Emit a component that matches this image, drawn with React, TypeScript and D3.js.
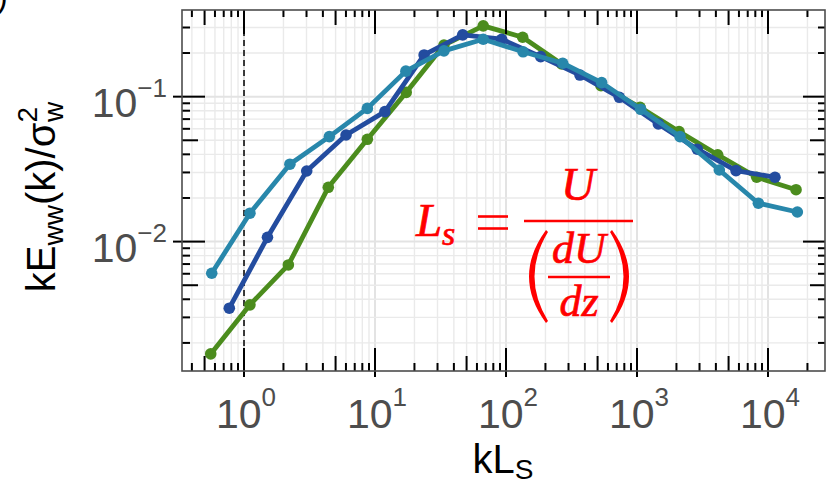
import React from "react";
import * as d3 from "d3";

const W = 827;
const H = 485;
const M = { left: 182, top: 10, right: 825, bottom: 371 };

const xDomain = [0.3362, 27230];
const yDomain = [0.00128, 0.3962];

const xMajor = [1, 10, 100, 1000, 10000];
const xMajorExp = ["0", "1", "2", "3", "4"];
const yMajor = [0.1, 0.01];
const yMajorExp = ["\u22121", "\u22122"];

const greenK = [0.557, 1.11, 2.18, 4.4, 8.74, 17.3, 33.6, 67, 134, 266, 531, 1055, 2094, 4130, 8200, 16370];
const greenE = [0.00168, 0.00366, 0.0069, 0.0237, 0.0508, 0.107, 0.227, 0.308, 0.257, 0.168, 0.119, 0.0845, 0.0574, 0.0397, 0.0278, 0.0228];

const blueK = [0.772, 1.51, 3.01, 6.01, 11.9, 23.7, 46.7, 92.7, 184, 367, 733, 1455, 2885, 5700, 11300];
const blueE = [0.00347, 0.0107, 0.0307, 0.0544, 0.0788, 0.194, 0.267, 0.249, 0.189, 0.141, 0.099, 0.0648, 0.0434, 0.0309, 0.0278];

const tealK = [0.567, 1.11, 2.24, 4.48, 8.74, 17.2, 33.6, 67, 135, 271, 537, 1067, 2130, 4250, 8440, 16750];
const tealE = [0.00605, 0.0157, 0.0342, 0.053, 0.083, 0.15, 0.207, 0.249, 0.204, 0.17, 0.125, 0.0818, 0.053, 0.0312, 0.0184, 0.016];

const series = [
  { name: "green", color: "#4b8c1d", k: greenK, e: greenE },
  { name: "blue", color: "#234c9f", k: blueK, e: blueE },
  { name: "teal", color: "#2887ab", k: tealK, e: tealE },
];

function logTicks(domain: number[]) {
  const out: { v: number; m: number }[] = [];
  for (let e = -4; e <= 5; e++) {
    for (let m = 1; m <= 9; m++) {
      const v = m * Math.pow(10, e);
      if (v >= domain[0] && v <= domain[1]) out.push({ v, m });
    }
  }
  return out;
}

export default function App() {
  const x = d3.scaleLog().domain(xDomain).range([M.left, M.right]);
  const y = d3.scaleLog().domain(yDomain).range([M.bottom, M.top]);
  const xt = logTicks(xDomain);
  const yt = logTicks(yDomain);
  const line = d3
    .line<[number, number]>()
    .x((d) => x(d[0]))
    .y((d) => y(d[1]));

  const tickFont = "'Liberation Sans', Arial, sans-serif";
  const red = "#ff0000";
  const serif = "'Liberation Serif', 'Times New Roman', serif";

  const lenFor = (m: number, major: number, mid: number, minor: number) =>
    m === 1 ? major : m === 5 ? mid : minor;

  return (
    <svg width={W} height={H} style={{ position: "absolute", left: 0, top: 0, background: "#fff" }}>
      <rect x={0} y={0} width={W} height={H} fill="#fff" />
      <text x={-3} y={7} fontSize={32} fontFamily={tickFont} fill="#000">)</text>
      {/* grid */}
      <g>
        {xt.map((t, i) => (
          <line key={"gx" + i} x1={x(t.v)} x2={x(t.v)} y1={M.top} y2={M.bottom}
            stroke={t.m === 1 ? "#e3e3e3" : "#eaeaea"} strokeWidth={t.m === 1 ? 2 : 1.4} />
        ))}
        {yt.map((t, i) => (
          <line key={"gy" + i} y1={y(t.v)} y2={y(t.v)} x1={M.left} x2={M.right}
            stroke={t.m === 1 ? "#e3e3e3" : "#eaeaea"} strokeWidth={t.m === 1 ? 2 : 1.4} />
        ))}
      </g>
      {/* dashed line at kLs = 1 */}
      <line x1={x(1)} x2={x(1)} y1={M.top} y2={M.bottom} stroke="#000" strokeWidth={1.5} strokeDasharray="6,4" />
      {/* series */}
      {series.map((s) => {
        const pts: [number, number][] = s.k.map((k, i) => [k, s.e[i]]);
        return (
          <g key={s.name}>
            <path d={line(pts) || ""} fill="none" stroke={s.color} strokeWidth={4.8} strokeLinejoin="round" />
            {pts.map((p, i) => (
              <circle key={i} cx={x(p[0])} cy={y(p[1])} r={5.8} fill={s.color} />
            ))}
          </g>
        );
      })}
      {/* formula */}
      <g fill={red} stroke={red} strokeWidth={0.7} fontFamily={serif} fontStyle="italic">
        <text x={416} y={236} fontSize={47}>L</text>
        <text x={442} y={245} fontSize={34}>s</text>
        <text x={578} y={200} fontSize={47} textAnchor="middle">U</text>
        <text x={579} y={263} fontSize={44} textAnchor="middle">dU</text>
        <text x={579} y={316} fontSize={44} textAnchor="middle">dz</text>
      </g>
      <line x1={478} x2={508} y1={216.5} y2={216.5} stroke={red} strokeWidth={2.6} />
      <line x1={478} x2={508} y1={228.5} y2={228.5} stroke={red} strokeWidth={2.6} />
      <line x1={524} x2={633} y1={221} y2={221} stroke={red} strokeWidth={2.6} />
      <line x1={548} x2={610} y1={277} y2={277} stroke={red} strokeWidth={2.4} />
      <path d="M546,230 Q512,276.5 546,323 L548,321 Q521,276.5 548,232 Z" fill={red} />
      <path d="M612,230 Q646,276.5 612,323 L610,321 Q637,276.5 610,232 Z" fill={red} />
      {/* ticks */}
      <g stroke="#000" strokeWidth={2}>
        {xt.map((t, i) => {
          const px = x(t.v);
          return (
            <g key={"tx" + i}>
              <line x1={px} x2={px} y1={M.bottom - lenFor(t.m, 23, 15, 8)} y2={t.m === 1 ? M.bottom + 6 : M.bottom} />
              <line x1={px} x2={px} y1={M.top} y2={M.top + lenFor(t.m, 24, 15, 7)} />
            </g>
          );
        })}
        {yt.map((t, i) => {
          const py = y(t.v);
          return (
            <g key={"ty" + i}>
              <line y1={py} y2={py} x1={t.m === 1 ? M.left - 9 : M.left} x2={M.left + lenFor(t.m, 23, 16, 8)} />
              <line y1={py} y2={py} x1={M.right} x2={M.right - lenFor(t.m, 22, 15, 7)} />
            </g>
          );
        })}
      </g>
      <rect x={M.left} y={M.top} width={M.right - M.left} height={M.bottom - M.top} fill="none" stroke="#4d4d4d" strokeWidth={1.6} />
      {/* tick labels */}
      <g fill="#4d4d4d" fontFamily={tickFont}>
        {xMajor.map((v, i) => (
          <text key={"xl" + i} x={x(v) + 2} y={428} fontSize={41} textAnchor="middle">
            10<tspan fontSize={26} dy={-22}>{xMajorExp[i]}</tspan>
          </text>
        ))}
        {yMajor.map((v, i) => (
          <text key={"yl" + i} x={167} y={y(v) + 20} fontSize={41} textAnchor="end">
            10<tspan fontSize={26} dy={-20}>{yMajorExp[i]}</tspan>
          </text>
        ))}
      </g>
      {/* axis titles */}
      <text x={503} y={473} fontSize={40} fontFamily={tickFont} textAnchor="middle" fill="#000">
        kL<tspan fontSize={28} dy={6}>S</tspan>
      </text>
      <text transform="translate(55,197) rotate(-90)" fontSize={40} fontFamily={tickFont} textAnchor="middle" fill="#000">
        kE<tspan fontSize={28} dy={8}>ww</tspan>
        <tspan dy={-8}>(k)/σ</tspan>
        <tspan fontSize={28} dy={-18}>2</tspan>
        <tspan fontSize={28} dx={-15} dy={26}>w</tspan>
      </text>
    </svg>
  );
}
